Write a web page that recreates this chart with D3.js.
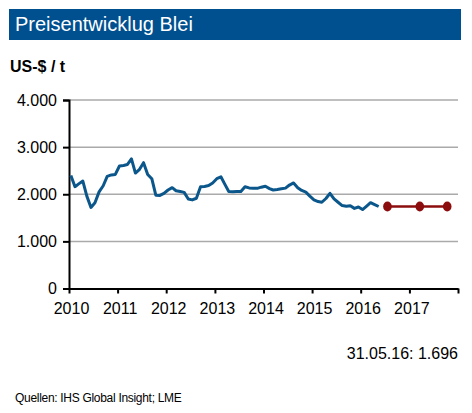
<!DOCTYPE html>
<html>
<head>
<meta charset="utf-8">
<script src="https://cdn.jsdelivr.net/npm/d3@7"></script>
<style>
  body { margin: 0; background: #fff; }
  svg { display: block; font-family: "Liberation Sans", Arial, sans-serif; }
</style>
</head>
<body>
<div id="chart"></div>
<script>
// Lead price, monthly, Jan 2010 - May 2016 (US-$ / t)
const firstMonth = '2010-01-15';
const leadPrice = [
  2400, 2160, 2220, 2280, 1960, 1720, 1820, 2050, 2180, 2380, 2410, 2420,
  2600, 2610, 2630, 2750, 2450, 2530, 2670, 2420, 2330, 1980, 1975, 2020,
  2090, 2140, 2075, 2060, 2040, 1900, 1880, 1915, 2160, 2165, 2185, 2240,
  2330, 2370, 2220, 2060, 2055, 2060, 2060, 2160, 2135, 2125, 2125, 2150,
  2170, 2120, 2090, 2100, 2115, 2130, 2195, 2240, 2140, 2080, 2045, 1960,
  1880, 1845, 1830, 1910, 2020, 1900, 1830, 1760, 1745, 1755, 1700, 1730,
  1675, 1750, 1820, 1780, 1740
];
// Forecast points
const forecastDates = ['2016-07-20', '2017-03-20', '2017-10-12'];
const forecastValues = [1740, 1740, 1740];

const yTicks = [0, 1000, 2000, 3000, 4000];
const yearTicks = [2010, 2011, 2012, 2013, 2014, 2015, 2016, 2017, 2018];

const width = 472, height = 413;
const fmt = d3.formatLocale({ decimal: ',', thousands: '.', grouping: [3], currency: ['', ''] }).format(',');

const svg = d3.select('#chart').append('svg')
  .attr('width', width)
  .attr('height', height);

// Title bar
svg.append('rect')
  .attr('x', 9).attr('y', 9)
  .attr('width', 452).attr('height', 31)
  .attr('fill', '#00508f');
svg.append('text')
  .attr('x', 15).attr('y', 31)
  .attr('fill', '#fff')
  .attr('font-size', 20)
  .text('Preisentwicklug Blei');

svg.append('text')
  .attr('x', 10).attr('y', 72)
  .attr('font-size', 16)
  .attr('font-weight', 'bold')
  .text('US-$ / t');

const parse = d3.timeParse('%Y-%m-%d');
const start = parse(firstMonth);
const series = leadPrice.map((v, i) => ({ date: d3.timeMonth.offset(start, i), value: v }));
const forecast = forecastDates.map((d, i) => ({ date: parse(d), value: forecastValues[i] }));

const x = d3.scaleTime()
  .domain([new Date(2010, 0, 1), new Date(2018, 0, 1)])
  .range([69, 458]);
const y = d3.scaleLinear()
  .domain([0, 4000])
  .range([288.5, 100]);

// Gridlines
svg.append('g')
  .selectAll('line')
  .data(yTicks.filter(d => d > 0))
  .join('line')
  .attr('x1', 69).attr('x2', 458)
  .attr('y1', d => y(d)).attr('y2', d => y(d))
  .attr('stroke', '#aaaaaa')
  .attr('stroke-width', 1.5);

// Y axis
const yAxis = svg.append('g')
  .attr('transform', 'translate(69,0)')
  .call(d3.axisLeft(y).tickValues(yTicks).tickFormat(d => fmt(d)).tickSize(6).tickPadding(6));
yAxis.select('.domain').attr('stroke', '#000').attr('stroke-width', 2);
yAxis.selectAll('.tick line').attr('stroke', '#000').attr('stroke-width', 2);
yAxis.selectAll('.tick text')
  .attr('font-size', 16)
  .attr('font-family', '"Liberation Sans", Arial, sans-serif')
  .attr('fill', '#000');

// X axis
const xAxis = svg.append('g')
  .attr('transform', `translate(0,${y(0)})`)
  .call(d3.axisBottom(x)
    .tickValues(yearTicks.map(yr => new Date(yr, 0, 1)))
    .tickFormat(d => d.getFullYear() < 2018 ? d.getFullYear() : '')
    .tickSize(5).tickSizeOuter(0).tickPadding(9));
xAxis.select('.domain').attr('stroke', '#000').attr('stroke-width', 2);
xAxis.selectAll('.tick line').attr('stroke', '#000').attr('stroke-width', 2);
xAxis.selectAll('.tick text')
  .attr('font-size', 16)
  .attr('font-family', '"Liberation Sans", Arial, sans-serif')
  .attr('fill', '#000')
  .attr('dx', 2);

// Price line
const line = d3.line()
  .x(d => x(d.date))
  .y(d => y(d.value));

svg.append('path')
  .datum(series)
  .attr('fill', 'none')
  .attr('stroke', '#0b578b')
  .attr('stroke-width', 3)
  .attr('stroke-linejoin', 'round')
  .attr('d', line);

// Forecast
svg.append('path')
  .datum(forecast)
  .attr('fill', 'none')
  .attr('stroke', '#8c0d0d')
  .attr('stroke-width', 2.5)
  .attr('d', line);
svg.append('g')
  .selectAll('ellipse')
  .data(forecast)
  .join('ellipse')
  .attr('cx', d => x(d.date))
  .attr('cy', d => y(d.value))
  .attr('rx', 4.3).attr('ry', 5)
  .attr('fill', '#8c0d0d');

svg.append('text')
  .attr('x', 458).attr('y', 359)
  .attr('text-anchor', 'end')
  .attr('font-size', 16)
  .text('31.05.16: 1.696');

svg.append('text')
  .attr('x', 15).attr('y', 402)
  .attr('font-size', 12)
  .attr('letter-spacing', -0.3)
  .text('Quellen: IHS Global Insight; LME');
</script>
</body>
</html>
